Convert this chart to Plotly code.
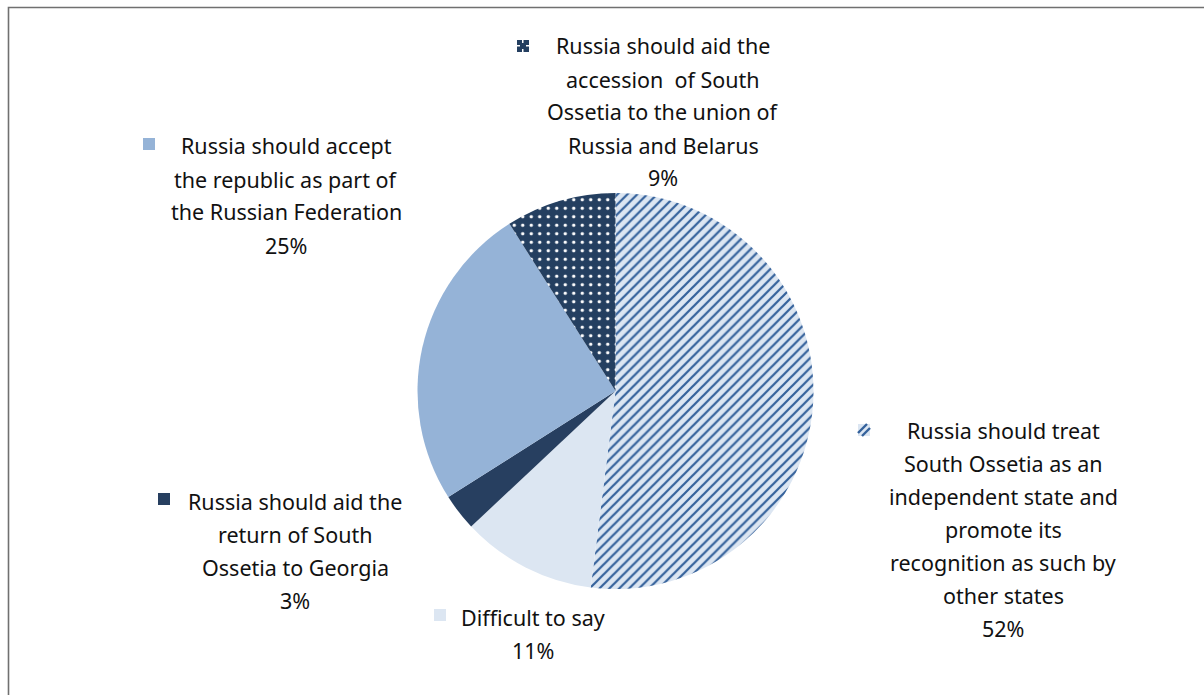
import plotly.graph_objects as go

W, H = 1204, 695

# ---- data ----
categories = [
    "Russia should treat South Ossetia as an independent state and promote its recognition as such by other states",
    "Difficult to say",
    "Russia should aid the return of South Ossetia to Georgia",
    "Russia should accept the republic as part of the Russian Federation",
    "Russia should aid the accession  of South Ossetia to the union of Russia and Belarus",
]
values = [52, 11, 3, 25, 9]
label_lines = [
    ["Russia should treat", "South Ossetia as an", "independent state and", "promote its",
     "recognition as such by", "other states"],
    ["Difficult to say"],
    ["Russia should aid the", "return of South", "Ossetia to Georgia"],
    ["Russia should accept", "the republic as part of", "the Russian Federation"],
    ["Russia should aid the", "accession  of South", "Ossetia to the union of", "Russia and Belarus"],
]

# ---- styles ----
fill_colors = ["#dce6f2", "#dce6f2", "#273f60", "#95b3d7", "#243f60"]
pattern_shapes = ["/", "", "", "", "."]
pattern_fg = ["#34619b", "#dce6f2", "#273f60", "#95b3d7", "#ffffff"]
pattern_bg = ["#dce6f2", "#dce6f2", "#273f60", "#95b3d7", "#243f60"]
pattern_size = [7, 8, 8, 8, 8.5]
pattern_solid = [0.32, 0.3, 0.3, 0.3, 0.13]

# label layout (pixel centers of first line, marker box) -- layout only
label_pos = [
    (1003, 430, (858, 424)),
    (533, 617, (434, 609)),
    (295, 501, (158, 493)),
    (286, 146, (143, 138)),
    (663, 46, (517, 40)),
]
LINE_H = 33
FONT = "Noto Sans"
FS = 21.5

def px(x):
    return x / W

def py(y):
    return 1 - y / H

cx, cy, r = 615.5, 391, 198

fig = go.Figure()
fig.add_trace(go.Pie(
    labels=categories,
    values=values,
    sort=False,
    direction="clockwise",
    rotation=0,
    textinfo="none",
    hoverinfo="label+percent",
    marker=dict(
        colors=fill_colors,
        line=dict(width=0),
        pattern=dict(shape=pattern_shapes, fgcolor=pattern_fg, bgcolor=pattern_bg,
                     size=pattern_size, solidity=pattern_solid, fillmode="replace"),
    ),
    domain=dict(x=[px(cx - r), px(cx + r)], y=[py(cy + r), py(cy - r)]),
    showlegend=False,
))

annotations = []
shapes = []
total = sum(values)
for i, (lines, (lx, ly, (mx, my))) in enumerate(zip(label_lines, label_pos)):
    pct = f"{round(values[i] / total * 100)}%"
    all_lines = lines + [pct]
    for k, t in enumerate(all_lines):
        annotations.append(dict(
            x=px(lx), y=py(ly + k * LINE_H), xref="paper", yref="paper",
            text=t, showarrow=False, xanchor="center", yanchor="middle",
            font=dict(family=FONT, size=FS, color="#111111", weight=400),
        ))
    # legend-like marker box
    shapes.append(dict(type="rect", xref="paper", yref="paper",
                       x0=px(mx), x1=px(mx + 12), y0=py(my + 12), y1=py(my),
                       fillcolor=pattern_bg[i] if pattern_shapes[i] else fill_colors[i],
                       line=dict(width=0)))
    if pattern_shapes[i] == "/":
        for (a, b, c, d) in ((0, 9, 9, 0), (4, 12, 12, 4)):
            shapes.append(dict(type="line", xref="paper", yref="paper",
                               x0=px(mx + a), y0=py(my + b), x1=px(mx + c), y1=py(my + d),
                               line=dict(color=pattern_fg[i], width=2.4)))
    elif pattern_shapes[i] == ".":
        for (a, b, c, d) in ((5, 0, 6.5, 3), (5, 9, 6.5, 12), (0, 5, 3, 6.5), (9, 5, 12, 6.5)):
            shapes.append(dict(type="rect", xref="paper", yref="paper",
                               x0=px(mx + a), x1=px(mx + c), y0=py(my + d), y1=py(my + b),
                               fillcolor="#ffffff", line=dict(width=0)))

# chart frame
shapes.append(dict(type="rect", xref="paper", yref="paper",
                   x0=px(8.5), x1=px(1215), y0=py(705), y1=py(7.5),
                   line=dict(color="#707070", width=1.6), fillcolor="rgba(0,0,0,0)"))

fig.update_layout(
    width=W, height=H,
    margin=dict(l=0, r=0, t=0, b=0),
    paper_bgcolor="#ffffff",
    plot_bgcolor="#ffffff",
    annotations=annotations,
    shapes=shapes,
)

fig.write_html("out.html")
